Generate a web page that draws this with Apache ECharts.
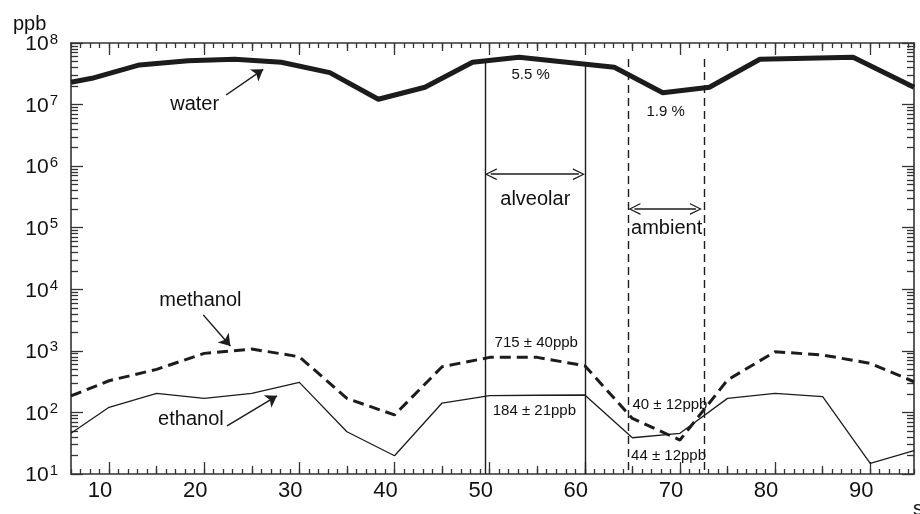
<!DOCTYPE html>
<html>
<head>
<meta charset="utf-8">
<script src="https://cdn.jsdelivr.net/npm/echarts@6/dist/echarts.min.js"></script>
<style>
  html, body { margin: 0; padding: 0; background: #fff; }
  #chart { width: 920px; height: 514px; }
</style>
</head>
<body>
<div id="chart"></div>
<script>
// time axis of the VOC samples (s)
const vocTime = [6, 10, 15, 20, 25, 30, 35, 40, 45, 50, 55, 60, 65, 70, 75, 80, 85, 90, 94.6]
const methanol = [185, 327, 501, 910, 1070, 802, 169, 91, 552, 784, 784, 573, 80, 35.6, 336, 967, 855, 627, 315]
const ethanol = [45.8, 121, 204, 169, 204, 308, 48.6, 19.8, 142, 187, 190, 192, 38.8, 45.8, 169, 204, 180, 14.9, 23.9]

// water is sampled on its own clock
const waterTime = [6, 8.2, 13.2, 18.3, 23.2, 28.1, 33.2, 38.3, 43.2, 48.2, 53.1, 63.1, 68.2, 73.1, 78.4, 88.2, 94.6]
const water = [2.3e7, 2.67e7, 4.4e7, 5.16e7, 5.44e7, 4.86e7, 3.3e7, 1.22e7, 1.91e7, 4.86e7, 5.86e7, 4.03e7, 1.56e7, 1.91e7, 5.44e7, 5.86e7, 1.91e7]

const xLabels = [10, 20, 30, 40, 50, 60, 70, 80, 90]
const xMidTicks = [15, 25, 35, 45, 55, 65, 75, 85]
const yDecades = [1, 2, 3, 4, 5, 6, 7, 8]

// sampling windows: [x, top of line]
const alveolarLines = [[49.5, 4.86e7], [60.0, 4.51e7]]
const ambientLines = [[64.6, 5.5e7], [72.6, 5.5e7]]
// span arrows: [from, to, height]
const spans = [[49.5, 60.0, 7.39e5], [64.6, 72.3, 2.02e5]]

const notes = [
  ['water', 19.0, 9.9e6, 20],
  ['methanol', 19.6, 6.5e3, 20],
  ['ethanol', 18.6, 76, 20],
  ['alveolar', 54.8, 2.83e5, 20],
  ['ambient', 68.6, 9.8e4, 20],
  ['5.5 %', 54.3, 3.03e7, 15],
  ['1.9 %', 68.5, 7.67e6, 15],
  ['715 ± 40ppb', 54.9, 1334, 15],
  ['184 ± 21ppb', 54.7, 108, 15],
  ['40 ± 12ppb', 68.95, 133, 15],
  ['44 ± 12ppb', 68.8, 19.7, 15]
]
const pointers = [
  [[22.3, 1.43e7], [26.2, 3.74e7]],
  [[19.9, 3.84e3], [22.75, 1.2e3]],
  [[22.4, 60.5], [27.65, 186]]
]

const INK = '#1c1c1c'
const AXIS = '#333'
const FONT = 'Liberation Sans, Arial, sans-serif'
const X_MIN = 6
const X_MAX = 94.6
// chevrons are centred on their end point, pull them in by half their size (~6px)
const TIP = 0.62

const pair = (xs, ys) => xs.map((x, i) => [x, ys[i]])

// minor log ticks (2..9 per decade), drawn on a linear exponent axis
const minorLog = []
yDecades.slice(0, -1).forEach(d => {
  for (let k = 2; k <= 9; k++) minorLog.push(d + Math.log10(k))
})

const xBase = (pos, extra) => Object.assign({
  type: 'value',
  position: pos,
  min: X_MIN,
  max: X_MAX,
  axisLine: { show: false },
  axisLabel: { show: false },
  splitLine: { show: false },
  axisTick: { show: true, inside: true, length: 5, lineStyle: { color: AXIS, width: 1.3 } }
}, extra)

const xAxes = []
;['bottom', 'top'].forEach(pos => {
  xAxes.push(xBase(pos, {
    axisLine: { show: true, lineStyle: { color: AXIS, width: 1.6 } },
    axisTick: { show: true, inside: true, length: 12, customValues: xLabels, lineStyle: { color: AXIS, width: 1.3 } },
    axisLabel: pos === 'bottom' ? {
      show: true, customValues: xLabels, fontSize: 22, fontFamily: FONT, color: '#111',
      margin: 6, padding: [0, 18, 0, 0]
    } : { show: false }
  }))
  xAxes.push(xBase(pos, { interval: 1 }))
  xAxes.push(xBase(pos, {
    axisTick: { show: true, inside: true, length: 8, customValues: xMidTicks, lineStyle: { color: AXIS, width: 1.3 } }
  }))
})

const yAxes = []
;['left', 'right'].forEach(pos => {
  yAxes.push({
    type: 'log',
    logBase: 10,
    position: pos,
    min: 10,
    max: 1e8,
    interval: 1,
    axisLine: { show: true, lineStyle: { color: AXIS, width: 1.6 } },
    axisTick: { show: true, inside: true, length: 12, lineStyle: { color: AXIS, width: 1.3 } },
    splitLine: { show: false },
    axisLabel: pos === 'left' ? {
      show: true,
      margin: 13,
      formatter: v => '{b|10}{e|' + Math.round(Math.log10(v)) + '}',
      rich: {
        b: { fontSize: 21, fontFamily: FONT, color: '#111', lineHeight: 24, verticalAlign: 'bottom' },
        e: { fontSize: 15, fontFamily: FONT, color: '#111', lineHeight: 24, verticalAlign: 'bottom', padding: [0, 0, 8, 1] }
      }
    } : { show: false }
  })
  yAxes.push({
    type: 'value',
    position: pos,
    min: yDecades[0],
    max: yDecades[yDecades.length - 1],
    axisLine: { show: false },
    axisLabel: { show: false },
    splitLine: { show: false },
    axisTick: { show: true, inside: true, length: 7, customValues: minorLog, lineStyle: { color: AXIS, width: 1.3 } }
  })
})

const chevron = 'path://M0,12 L6,0 L12,12 L10.6,12 L6,2.6 L1.4,12 Z'

const vLine = (x, top, dashed) => [
  { coord: [x, top], lineStyle: { type: dashed ? [8, 5] : 'solid' } },
  { coord: [x, 10] }
]

const chart = echarts.init(document.getElementById('chart'), null, { renderer: 'canvas' })
chart.setOption({
  animation: false,
  backgroundColor: '#fff',
  textStyle: { fontFamily: FONT },
  grid: { left: 71, right: 6, top: 43, bottom: 40, containLabel: false },
  xAxis: xAxes,
  yAxis: yAxes,
  graphic: [
    { type: 'text', left: 13, top: 14, style: { text: 'ppb', fontSize: 20, fontFamily: FONT, fill: '#111' } },
    { type: 'text', left: 913, top: 499, style: { text: 's', fontSize: 20, fontFamily: FONT, fill: '#111' } }
  ],
  series: [
    {
      name: 'water',
      type: 'line',
      data: pair(waterTime, water),
      showSymbol: false,
      lineStyle: { color: INK, width: 5 },
      z: 5
    },
    {
      name: 'methanol',
      type: 'line',
      data: pair(vocTime, methanol),
      showSymbol: false,
      lineStyle: { color: INK, width: 3, type: [11, 6] },
      z: 4
    },
    {
      name: 'ethanol',
      type: 'line',
      data: pair(vocTime, ethanol),
      showSymbol: false,
      lineStyle: { color: INK, width: 1.3 },
      z: 4
    },
    {
      name: 'windows',
      type: 'line',
      data: [],
      markLine: {
        silent: true,
        symbol: ['none', 'none'],
        label: { show: false },
        lineStyle: { color: INK, width: 1.4 },
        data: alveolarLines.map(d => vLine(d[0], d[1], false))
          .concat(ambientLines.map(d => vLine(d[0], d[1], true)))
      }
    },
    {
      name: 'spans',
      type: 'line',
      data: [],
      markLine: {
        silent: true,
        symbol: [chevron, chevron],
        symbolSize: 12,
        label: { show: false },
        lineStyle: { color: INK, width: 1.5, type: 'solid' },
        data: spans.map(s => [{ coord: [s[0] + TIP, s[2]] }, { coord: [s[1] - TIP, s[2]] }])
      }
    },
    {
      name: 'pointers',
      type: 'line',
      data: [],
      markLine: {
        silent: true,
        symbol: ['none', 'arrow'],
        symbolSize: 11,
        label: { show: false },
        lineStyle: { color: INK, width: 1.5, type: 'solid' },
        data: pointers.map(p => [{ coord: p[0] }, { coord: p[1] }])
      }
    },
    {
      name: 'notes',
      type: 'line',
      data: [],
      markPoint: {
        silent: true,
        symbol: 'circle',
        symbolSize: 0,
        label: { show: true, position: 'inside', color: '#111', fontFamily: FONT },
        data: notes.map(n => ({
          name: n[0],
          coord: [n[1], n[2]],
          label: { formatter: n[0], fontSize: n[3] }
        }))
      }
    }
  ]
})
</script>
</body>
</html>
